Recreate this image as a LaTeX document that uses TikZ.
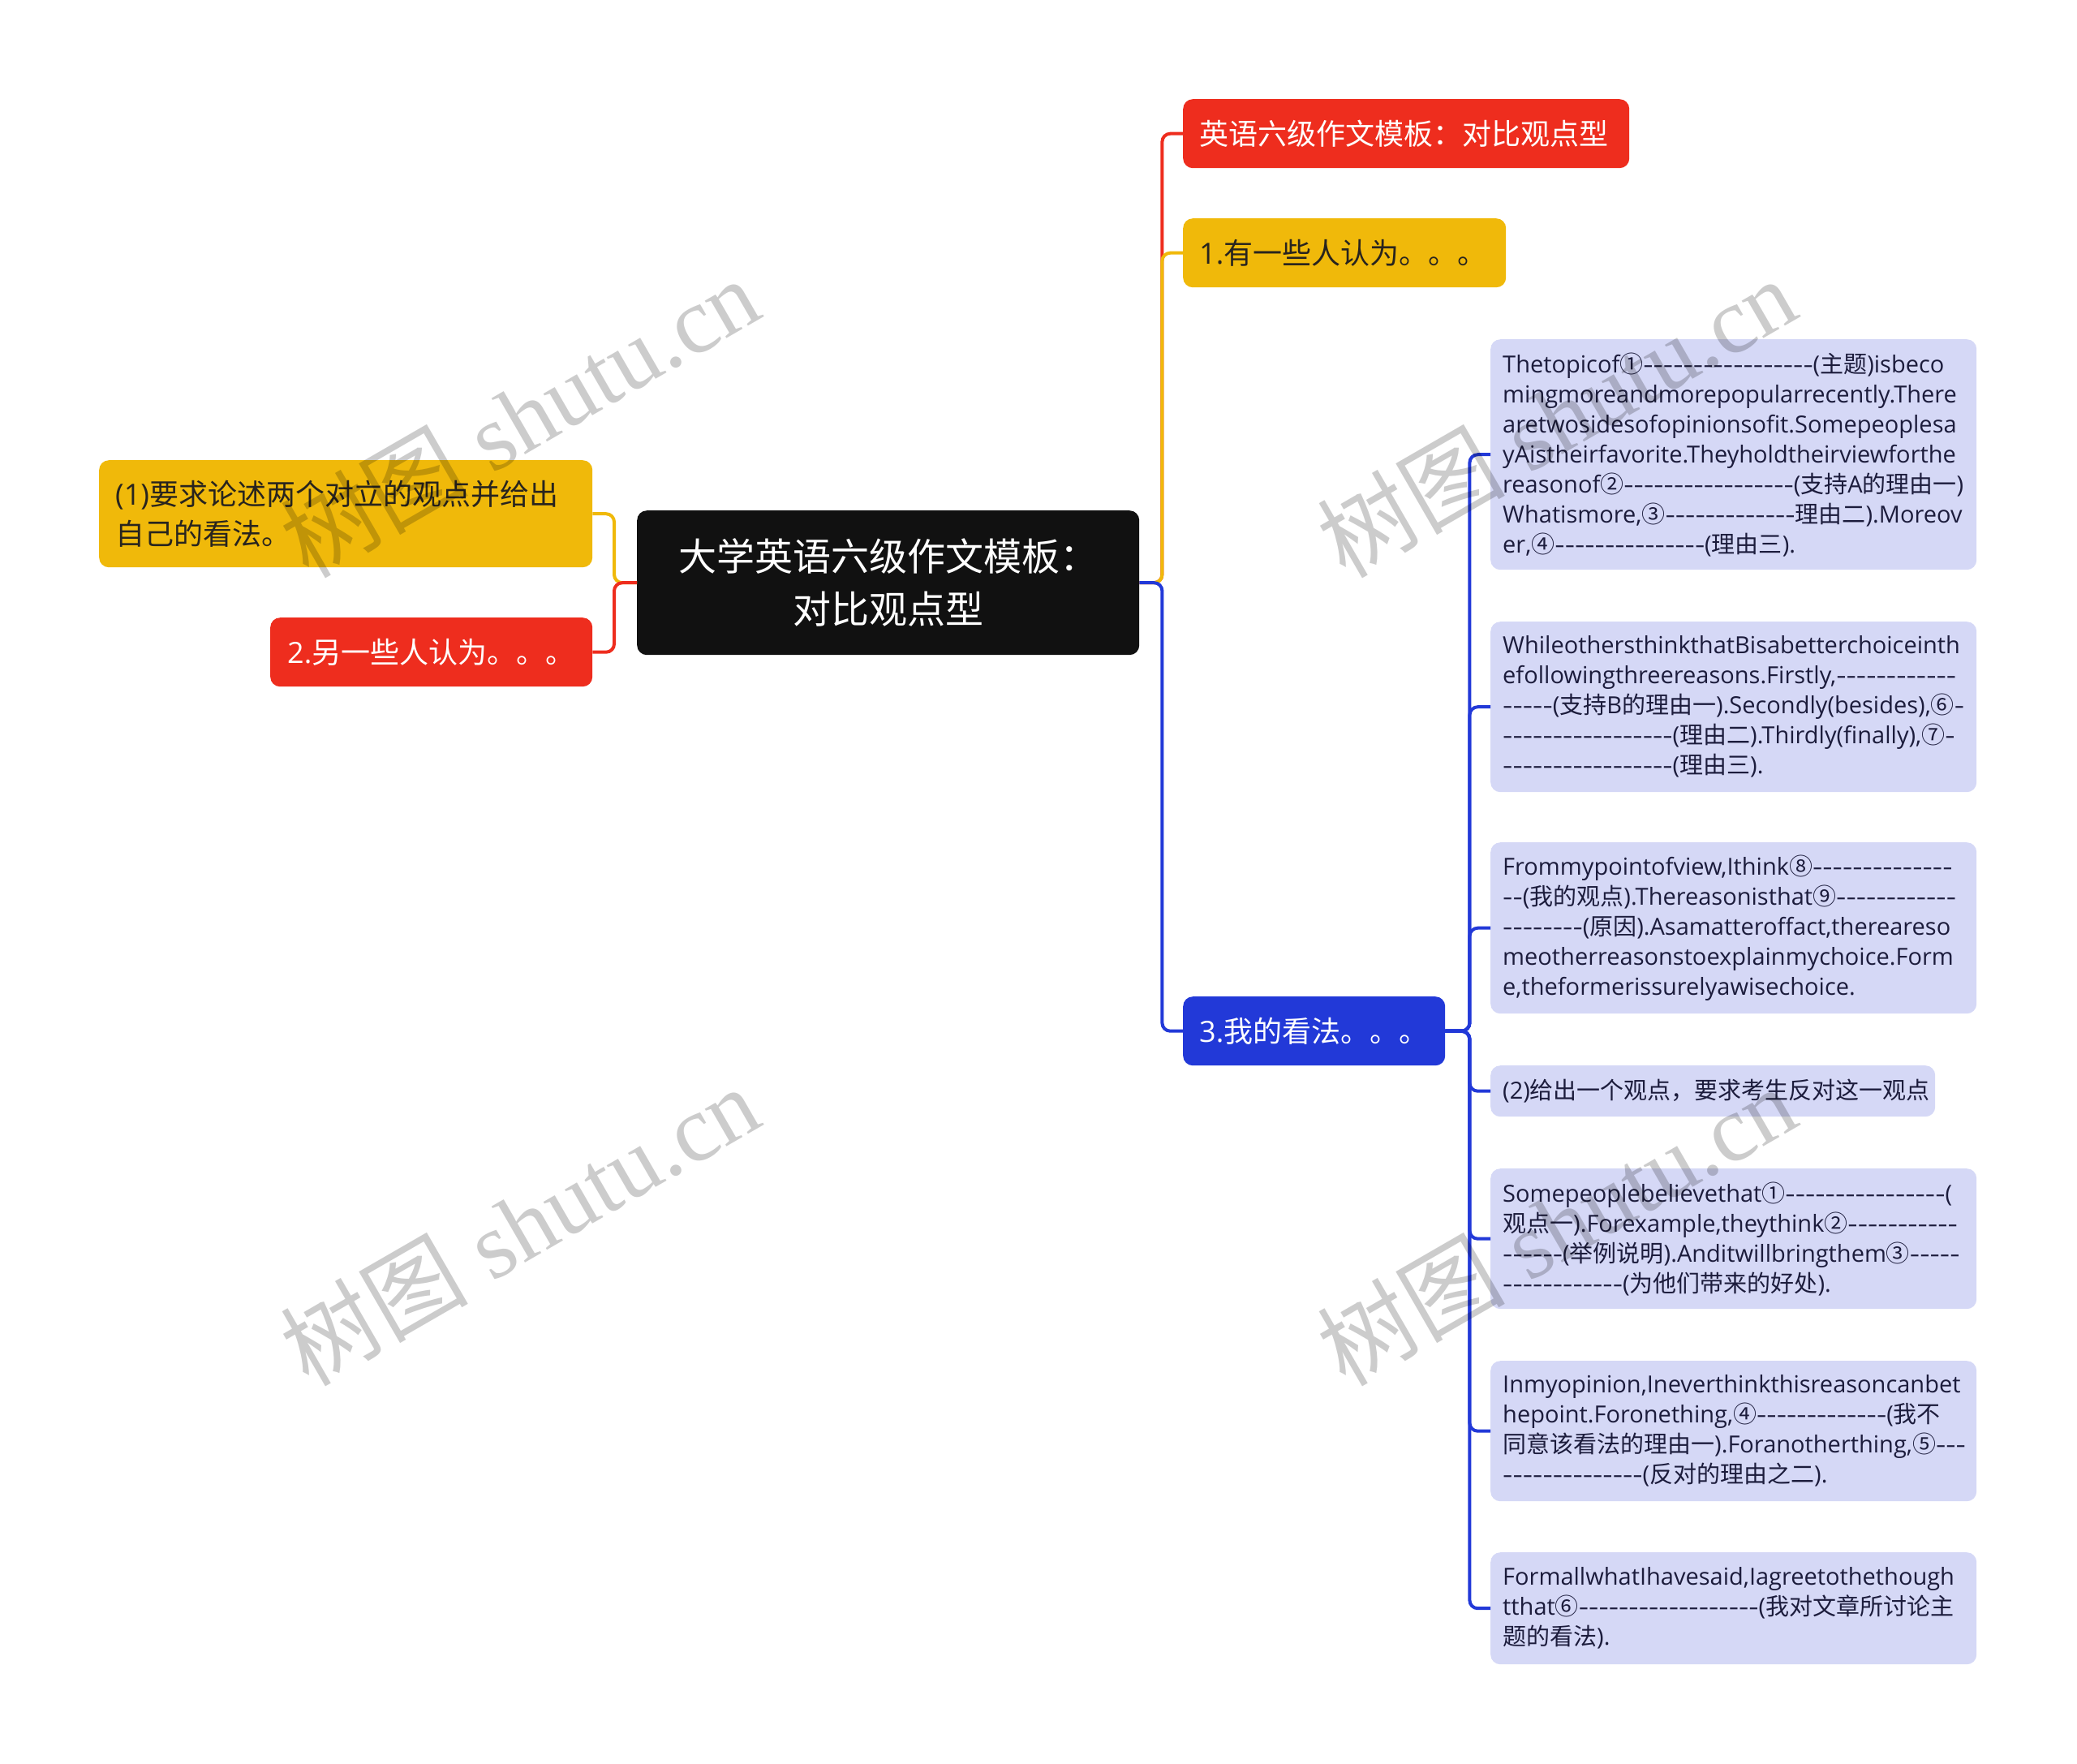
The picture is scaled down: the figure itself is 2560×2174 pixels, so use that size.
\documentclass[tikz,border=0pt]{standalone}
\usepackage{fontspec}
\setmainfont{Open Sans}[Ligatures=TeXOff]
\newfontfamily\cjk{Noto Sans CJK SC}[Ligatures=TeXOff]
\newfontfamily\wmserif{Liberation Serif}
\newcommand\zh[1]{{\cjk #1}}
\newcount\dashcnt
\newcommand\dshraw[1]{\dashcnt=#1\relax\loop\ifnum\dashcnt>0 -\advance\dashcnt by -1\relax\repeat}
\newcommand\dsh[1]{\scalebox{1.32}[1]{\dshraw{#1}}}
\hyphenpenalty=10000
\exhyphenpenalty=10000
\definecolor{mmred}{RGB}{238,45,30}
\definecolor{mmyellow}{RGB}{240,185,10}
\definecolor{mmblue}{RGB}{34,57,216}
\definecolor{mmblack}{RGB}{17,17,17}
\definecolor{lav}{RGB}{213,216,246}
\definecolor{lavtext}{RGB}{28,28,60}
\definecolor{darktext}{RGB}{40,36,30}
\tikzset{
  box/.style={rounded corners=12pt, inner sep=0pt, anchor=north west, draw=none},
  lavbox/.style={box, fill=lav, text=lavtext, font=\fontsize{29}{37}\selectfont,
    inner xsep=15pt, align=left, text width=569pt},
  topic/.style={box, font=\fontsize{36}{49}\selectfont, inner xsep=20pt, align=left},
  conn/.style={line width=4pt, rounded corners=10pt},
  wm/.style={rotate=30, text=black, opacity=0.2, font=\fontsize{116}{116}\wmserif}
}
\begin{document}
\begin{tikzpicture}[x=1pt,y=-1pt]
\useasboundingbox (0,0) rectangle (2560,2174);
% central node
\node[box, fill=mmblack, text=white, font=\fontsize{47}{65}\selectfont, align=center,
  text width=579pt, inner xsep=20pt, minimum height=178pt] (c) at (785,629)
  {\zh{大学英语六级作文模板：}\\\zh{对比观点型}};
% left nodes
\node[topic, fill=mmyellow, text=darktext, text width=568pt, minimum height=132pt] (l1) at (122,567)
  {(1)\zh{要求论述两个对立的观点并给出}\\\zh{自己的看法。}};
\node[topic, fill=mmred, text=white, text width=355pt, inner xsep=21pt, minimum height=85pt] (l2) at (333,761)
  {2.\zh{另一些人认为。。。}};
% right topic nodes
\node[topic, fill=mmred, text=white, text width=510pt, minimum height=85pt] (r0) at (1458,122)
  {\zh{英语六级作文模板：对比观点型}};
\node[topic, fill=mmyellow, text=darktext, text width=358pt, minimum height=85pt] (r1) at (1458,269)
  {1.\zh{有一些人认为。。。}};
\node[topic, fill=mmblue, text=white, text width=283pt, minimum height=85pt] (r3) at (1458,1228)
  {3.\zh{我的看法。。。}};
% lavender boxes
\node[lavbox, minimum height=284pt] (b1) at (1837,418)
  {Thetopicof\zh{①}\dsh{17}(\zh{主题})isbeco\\
   mingmoreandmorepopularrecently.There\\
   aretwosidesofopinionsofit.Somepeoplesa\\
   yAistheirfavorite.Theyholdtheirviewforthe\\
   reasonof\zh{②}\dsh{17}(\zh{支持}A\zh{的理由一})\\
   Whatismore,\zh{③}\dsh{13}\zh{理由二}).Moreov\\
   er,\zh{④}\dsh{15}(\zh{理由三}).};
\node[lavbox, minimum height=210pt] (b2) at (1837,766)
  {WhileothersthinkthatBisabetterchoiceinth\\
   efollowingthreereasons.Firstly,\dsh{12}\\
   \dsh{5}(\zh{支持}B\zh{的理由一}).Secondly(besides),\zh{⑥}\dsh{1}\\
   \dsh{17}(\zh{理由二}).Thirdly(finally),\zh{⑦}\dsh{1}\\
   \dsh{17}(\zh{理由三}).};
\node[lavbox, minimum height=211pt] (b3) at (1837,1038)
  {Frommypointofview,Ithink\zh{⑧}\dsh{14}\\
   \dsh{2}(\zh{我的观点}).Thereasonisthat\zh{⑨}\dsh{12}\\
   \dsh{8}(\zh{原因}).Asamatteroffact,thereareso\\
   meotherreasonstoexplainmychoice.Form\\
   e,theformerissurelyawisechoice.};
\node[box, fill=lav, text=lavtext, font=\fontsize{29}{37}\selectfont, inner xsep=15pt,
  align=left, text width=518pt, minimum height=63pt] (b4) at (1837,1313)
  {(2)\zh{给出一个观点，要求考生反对这一观点}};
\node[lavbox, minimum height=173pt] (b5) at (1837,1440)
  {Somepeoplebelievethat\zh{①}\dsh{16}(\\
   \zh{观点一}).Forexample,theythink\zh{②}\dsh{11}\\
   \dsh{6}(\zh{举例说明}).Anditwillbringthem\zh{③}\dsh{5}\\
   \dsh{12}(\zh{为他们带来的好处}).};
\node[lavbox, minimum height=173pt] (b6) at (1837,1677)
  {Inmyopinion,Ineverthinkthisreasoncanbet\\
   hepoint.Foronething,\zh{④}\dsh{13}(\zh{我不}\\
   \zh{同意该看法的理由一}).Foranotherthing,\zh{⑤}\dsh{3}\\
   \dsh{14}(\zh{反对的理由之二}).};
\node[lavbox, minimum height=138pt] (b7) at (1837,1913)
  {FormallwhatIhavesaid,Iagreetothethough\\
   tthat\zh{⑥}\dsh{18}(\zh{我对文章所讨论主}\\
   \zh{题的看法}).};
% connectors left
\draw[conn, mmyellow] (c.west) -- ++(-28,0) |- (l1.east);
\draw[conn, mmred] (c.west) -- ++(-28,0) |- (l2.east);
% connectors right
\draw[conn, mmred] (c.east) -- ++(28,0) |- (r0.west);
\draw[conn, mmyellow] (c.east) -- ++(28,0) |- (r1.west);
\draw[conn, mmblue] (c.east) -- ++(28,0) |- (r3.west);
\foreach \b in {b1,b2,b3,b4,b5,b6,b7}
  \draw[conn, mmblue] (r3.east) -- ++(30,0) |- (\b.west);
% watermarks
\node[wm] (w1) at (640,514) {\zh{树图} shutu.cn};
\node[wm] (w2) at (640,1510) {\zh{树图} shutu.cn};
\node[wm] (w3) at (1918,514) {\zh{树图} shutu.cn};
\node[wm] (w4) at (1918,1510) {\zh{树图} shutu.cn};
\end{tikzpicture}
\end{document}
